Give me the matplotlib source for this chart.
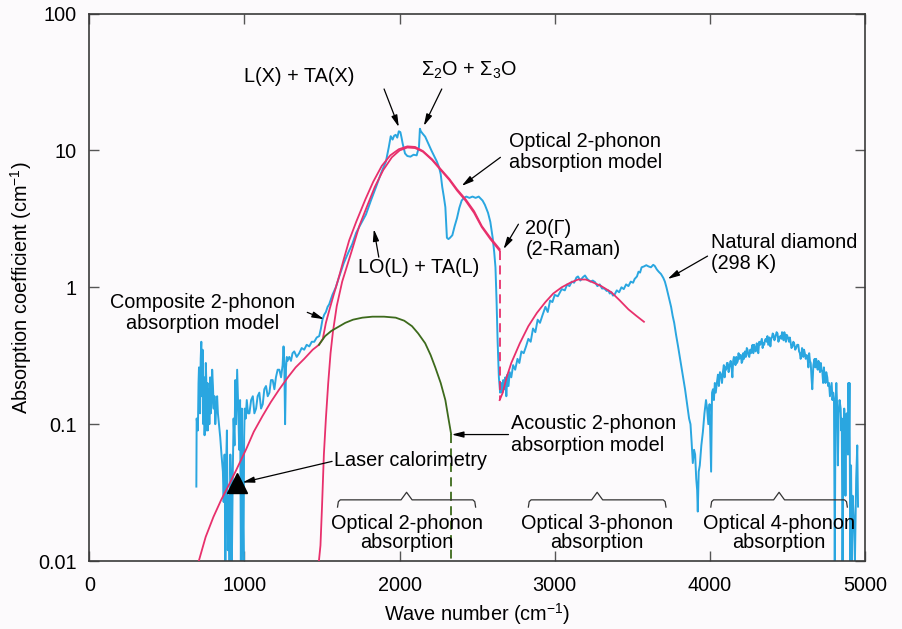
import matplotlib
matplotlib.use("Agg")
import matplotlib.pyplot as plt
import numpy as np

# ---------------- data ----------------
# Natural diamond (298 K) measured spectrum
blue_x = [690, 692, 700, 704, 707, 711, 714, 718, 722, 725, 727, 730, 732, 735, 737, 740, 743, 746, 748, 751,
          754, 757, 759, 762, 764, 767, 770, 774, 779, 783, 788, 792, 797, 802, 807,
          812, 818, 824, 829, 836, 844, 852, 861, 866, 872, 877, 882, 887, 893, 898, 904, 909, 914, 919, 925,
          930, 936, 941, 946, 953, 961, 966, 972, 977, 983, 988, 994, 998, 1002, 1008, 1015, 1023, 1032, 1043, 1054,
          1064, 1075, 1085, 1096, 1107, 1118, 1128, 1139, 1150, 1161, 1171, 1182, 1193, 1203, 1214, 1225, 1236, 1246, 1252, 1257,
          1262, 1268, 1273, 1278, 1289, 1300, 1310, 1321, 1337, 1353, 1369, 1385, 1401, 1418, 1434, 1450, 1466, 1482, 1493, 1503,
          1514, 1525, 1536, 1546, 1567, 1589, 1610, 1640, 1670, 1695, 1720, 1750, 1783, 1815, 1848, 1880, 1912, 1930, 1943, 1955,
          1965, 1975, 1985, 1995, 2005, 2012, 2020, 2035, 2050, 2070, 2090, 2110, 2125, 2131, 2137, 2150, 2165, 2185, 2205, 2225,
          2240, 2255, 2265, 2275, 2285, 2295, 2300, 2305, 2315, 2325, 2340, 2355, 2370, 2385, 2400, 2415, 2430, 2450, 2470, 2490,
          2510, 2535, 2550, 2570, 2585, 2600, 2610, 2618, 2625, 2632, 2640, 2648, 2655, 2662, 2668, 2675, 2682, 2688, 2695, 2702,
          2710, 2720, 2732, 2745, 2760, 2772, 2785, 2800, 2815, 2830, 2845, 2860, 2875, 2890, 2905, 2920, 2940, 2955, 2970, 2985,
          3000, 3020, 3045, 3065, 3080, 3095, 3110, 3125, 3140, 3150, 3165, 3180, 3195, 3210, 3230, 3245, 3260, 3275, 3290, 3305,
          3320, 3335, 3345, 3355, 3365, 3375, 3385, 3400, 3415, 3430, 3445, 3460, 3475, 3490, 3505, 3515, 3530, 3540, 3550, 3560,
          3575, 3590, 3605, 3620, 3635, 3645, 3658, 3670, 3685, 3700, 3710, 3720, 3735, 3750, 3760, 3770, 3782, 3795, 3808, 3820,
          3830, 3840, 3850, 3858, 3866, 3875, 3882, 3890, 3898, 3905, 3912, 3918, 3922, 3928, 3935, 3945, 3955, 3965, 3975, 3982,
          3990, 3998, 4008, 4014, 4020, 4026, 4032, 4038, 4045, 4052, 4058, 4065, 4072, 4078, 4084, 4090, 4095, 4100, 4105, 4110,
          4115, 4121, 4128, 4134, 4140, 4145, 4150, 4155, 4160, 4165, 4170, 4175, 4180, 4185, 4190, 4195,
          4200, 4205, 4210, 4215, 4220, 4226, 4232, 4238, 4243, 4248, 4254, 4260, 4265, 4270, 4275, 4280, 4285, 4290, 4296, 4302,
          4307, 4312, 4318, 4324, 4330, 4335, 4340, 4345, 4350, 4355, 4360, 4366, 4371, 4376, 4380, 4385, 4390, 4395, 4400, 4405,
          4410, 4416, 4422, 4430, 4436, 4442, 4448, 4454, 4460, 4465, 4470, 4475, 4480, 4485, 4490, 4495, 4500, 4505, 4510, 4515,
          4520, 4526, 4532, 4538, 4543, 4550, 4556, 4563, 4570, 4575, 4580, 4585, 4590, 4594, 4598, 4602, 4607, 4612, 4618, 4624,
          4630, 4635, 4640, 4645, 4650, 4655, 4660, 4667, 4675, 4680, 4685, 4690, 4695, 4700, 4705, 4710, 4715, 4720, 4725, 4730,
          4735, 4740, 4745, 4750, 4757, 4762, 4768, 4774, 4780, 4785, 4790, 4795, 4800, 4805,
          4810, 4815, 4820, 4825, 4830, 4836, 4843, 4847, 4850, 4855, 4862, 4866, 4870, 4874, 4878, 4882, 4886, 4890, 4893, 4897,
          4900, 4905, 4910, 4915, 4920, 4928, 4935, 4943, 4950, 4955]
blue_y = [0.035, 0.11, 0.09, 0.20, 0.26, 0.14, 0.12, 0.30, 0.40, 0.16, 0.19, 0.35, 0.30, 0.10, 0.12, 0.22, 0.083, 0.12, 0.15, 0.28,
          0.21, 0.09, 0.11, 0.20, 0.09, 0.14, 0.18, 0.10, 0.22, 0.12, 0.14, 0.25, 0.19, 0.13, 0.16,
          0.10, 0.13, 0.16, 0.12, 0.10, 0.08, 0.06, 0.045, 0.027, 0.06, 0.010, 0.05, 0.09, 0.012, 0.03, 0.010, 0.06, 0.035, 0.010, 0.045,
          0.11, 0.07, 0.21, 0.10, 0.25, 0.12, 0.065, 0.15, 0.010, 0.13, 0.03, 0.010, 0.08, 0.13, 0.11, 0.15, 0.12, 0.12, 0.15, 0.16,
          0.12, 0.13, 0.16, 0.17, 0.13, 0.14, 0.18, 0.19, 0.16, 0.17, 0.21, 0.21, 0.18, 0.22, 0.25, 0.25, 0.22, 0.27, 0.37, 0.28,
          0.10, 0.26, 0.31, 0.29, 0.31, 0.29, 0.33, 0.34, 0.31, 0.33, 0.36, 0.35, 0.38, 0.37, 0.40, 0.40, 0.43, 0.44, 0.50, 0.58,
          0.63, 0.66, 0.72, 0.75, 0.88, 1.0, 1.19, 1.5, 1.8, 2.07, 2.5, 2.9, 3.4, 4.3, 5.4, 6.8, 8.3, 10.5, 12.7, 12.0,
          12.8, 13.0, 12.4, 13.8, 13.6, 12.5, 11.2, 9.5, 9.1, 9.0, 9.3, 9.2, 10.6, 14.4, 13.8, 13.2, 12.6, 11.2, 10.0, 9.0,
          8.3, 7.5, 6.7, 5.4, 4.6, 3.85, 3.0, 2.3, 2.25, 2.3, 2.4, 2.8, 3.2, 3.8, 4.3, 4.5, 4.6, 4.5, 4.6, 4.5,
          4.6, 4.3, 4.0, 3.5, 3.0, 2.3, 1.8, 1.4, 0.8, 0.4, 0.22, 0.17, 0.20, 0.17, 0.21, 0.18, 0.22, 0.16, 0.23, 0.19,
          0.24, 0.22, 0.27, 0.25, 0.30, 0.28, 0.34, 0.33, 0.37, 0.42, 0.40, 0.50, 0.47, 0.58, 0.55, 0.62, 0.72, 0.66, 0.80, 0.78,
          0.88, 0.86, 0.97, 0.95, 1.05, 1.02, 1.10, 1.08, 1.18, 1.20, 1.12, 1.18, 1.22, 1.15, 1.10, 1.12, 1.09, 1.02, 1.05, 0.98,
          0.98, 0.94, 0.95, 0.90, 0.92, 0.87, 0.88, 0.95, 0.92, 1.00, 0.97, 1.05, 1.02, 1.10, 1.08, 1.15, 1.20, 1.30, 1.28, 1.40,
          1.42, 1.45, 1.42, 1.40, 1.46, 1.43, 1.35, 1.30, 1.25, 1.17, 1.10, 1.00, 0.85, 0.72, 0.62, 0.55, 0.45, 0.37, 0.30, 0.25,
          0.21, 0.18, 0.15, 0.128, 0.11, 0.10, 0.075, 0.052, 0.065, 0.06, 0.04, 0.033, 0.023, 0.045, 0.05, 0.07, 0.088, 0.12, 0.15, 0.13,
          0.10, 0.14, 0.045, 0.17, 0.18, 0.15, 0.20, 0.17, 0.20, 0.23, 0.19, 0.24, 0.23, 0.20, 0.24, 0.27, 0.22, 0.26, 0.25, 0.28,
          0.28, 0.24, 0.27, 0.29, 0.26, 0.22, 0.29, 0.31, 0.30, 0.27, 0.31, 0.28, 0.29, 0.33, 0.30, 0.32,
          0.32, 0.28, 0.29, 0.33, 0.30, 0.34, 0.31, 0.36, 0.35, 0.32, 0.31, 0.35, 0.33, 0.36, 0.38, 0.33, 0.38, 0.35, 0.34, 0.39,
          0.37, 0.33, 0.40, 0.38, 0.40, 0.42, 0.36, 0.39, 0.38, 0.41, 0.42, 0.40, 0.44, 0.38, 0.40, 0.43, 0.37, 0.42, 0.43, 0.46,
          0.45, 0.41, 0.43, 0.47, 0.46, 0.40, 0.43, 0.44, 0.42, 0.47, 0.46, 0.41, 0.47, 0.44, 0.40, 0.45, 0.44, 0.42, 0.40, 0.43,
          0.40, 0.36, 0.37, 0.40, 0.39, 0.35, 0.36, 0.38, 0.38, 0.34, 0.33, 0.30, 0.32, 0.36, 0.35, 0.31, 0.35, 0.33, 0.30, 0.32,
          0.30, 0.26, 0.33, 0.29, 0.28, 0.22, 0.18, 0.27, 0.30, 0.26, 0.30, 0.27, 0.25, 0.29, 0.26, 0.24, 0.28, 0.25, 0.24, 0.20,
          0.26, 0.22, 0.20, 0.24, 0.22, 0.19, 0.20, 0.16, 0.18, 0.20, 0.15, 0.17, 0.15, 0.010,
          0.14, 0.20, 0.14, 0.05, 0.12, 0.15, 0.13, 0.09, 0.11, 0.010, 0.10, 0.13, 0.11, 0.03, 0.10, 0.12, 0.10, 0.06, 0.20, 0.09,
          0.20, 0.010, 0.05, 0.010, 0.03, 0.02, 0.010, 0.04, 0.07, 0.025]

# Composite 2-phonon absorption model
comp_x = [700, 750, 800, 850, 905, 950, 1012, 1060, 1117, 1170, 1225, 1280, 1330, 1385, 1440, 1480, 1505, 1525, 1550, 1575,
          1610, 1640, 1675, 1720, 1780, 1830, 1885, 1940, 1995, 2050, 2100, 2150, 2210, 2260, 2320, 2370, 2425, 2480, 2530, 2585, 2645]
comp_y = [0.0095, 0.015, 0.021, 0.028, 0.037, 0.047, 0.066, 0.088, 0.115, 0.145, 0.18, 0.22, 0.26, 0.30, 0.35, 0.38, 0.42, 0.55, 0.70, 0.88,
          1.2, 1.6, 2.2, 3.0, 4.4, 5.9, 7.7, 9.2, 10.2, 10.7, 10.6, 9.9, 8.6, 7.4, 6.2, 5.2, 4.4, 3.6, 2.8, 2.3, 1.9]

# Optical 2-phonon absorption model
opt2_x = [1478, 1490, 1500, 1512, 1525, 1540, 1555, 1570, 1595, 1630, 1695, 1740, 1790, 1840, 1895, 1950, 2000, 2050, 2100, 2150,
          2210, 2260, 2320, 2370, 2425, 2480, 2530, 2585, 2645]
opt2_y = [0.0095, 0.013, 0.025, 0.06, 0.11, 0.20, 0.33, 0.47, 0.73, 1.1, 1.9, 2.8, 3.9, 5.4, 7.2, 8.9, 10.0, 10.5, 10.4, 9.8,
          8.5, 7.3, 6.1, 5.1, 4.3, 3.5, 2.75, 2.25, 1.85]

# Optical 3-phonon absorption model
opt3_x = [2645, 2665, 2690, 2720, 2775, 2830, 2885, 2940, 2990, 3045, 3100, 3150, 3200, 3235, 3300, 3365, 3420, 3475, 3525, 3575]
opt3_y = [0.15, 0.17, 0.22, 0.28, 0.39, 0.52, 0.65, 0.78, 0.90, 1.0, 1.08, 1.14, 1.14, 1.10, 1.02, 0.92, 0.80, 0.69, 0.62, 0.56]

# Acoustic 2-phonon absorption model
acou_x = [1480, 1520, 1560, 1600, 1650, 1700, 1760, 1825, 1900, 1975, 2030, 2080, 2120, 2165, 2200, 2230, 2265, 2295, 2315, 2332]
acou_y = [0.38, 0.44, 0.48, 0.51, 0.55, 0.58, 0.60, 0.61, 0.61, 0.60, 0.57, 0.52, 0.46, 0.39, 0.32, 0.26, 0.20, 0.15, 0.11, 0.085]

# Laser calorimetry point
laser_x = [950]
laser_y = [0.037]

x_ticks = [0, 1000, 2000, 3000, 4000, 5000]
x_tick_labels = ["0", "1000", "2000", "3000", "4000", "5000"]
y_ticks = [0.01, 0.1, 1, 10, 100]
y_tick_labels = ["0.01", "0.1", "1", "10", "100"]

bracket_spans = [(1600, 2490), (2830, 3717), (4006, 4886)]
bracket_labels = ["Optical 2-phonon\nabsorption", "Optical 3-phonon\nabsorption", "Optical 4-phonon\nabsorption"]

# ---------------- style ----------------
FONT = "Liberation Sans"
plt.rcParams["font.family"] = [FONT, "DejaVu Sans"]
plt.rcParams["mathtext.fontset"] = "custom"
plt.rcParams["mathtext.rm"] = FONT
plt.rcParams["mathtext.it"] = FONT
plt.rcParams["mathtext.bf"] = FONT
FS = 14.3
BLUE = "#2aa6e0"
PINK = "#e8306c"
GREEN = "#3d6a1c"
AX = "#3a3a3a"
TICK = "#555555"
BG = "#fcfafc"

fig = plt.figure(figsize=(9.02, 6.29), dpi=100, facecolor=BG)
ax = fig.add_axes([0.099, 0.108, 0.860, 0.8705], facecolor=BG)

ax.plot(blue_x, blue_y, color=BLUE, lw=1.4, zorder=2)
ax.plot(comp_x, comp_y, color=PINK, lw=1.3, zorder=3)
ax.plot(opt2_x, opt2_y, color=PINK, lw=1.3, zorder=3)
ax.plot([opt2_x[-1], opt3_x[0]], [opt2_y[-1], opt3_y[0]], color=PINK, lw=1.3, ls=(0, (5, 3)), zorder=3)
ax.plot(opt3_x, opt3_y, color=PINK, lw=1.3, zorder=3)
ax.plot(acou_x, acou_y, color=GREEN, lw=1.3, zorder=4)
ax.plot([acou_x[-1], acou_x[-1]], [acou_y[-1], 0.0095], color=GREEN, lw=1.3, ls=(0, (5, 3)), zorder=4)
ax.plot(laser_x, laser_y, marker="^", color="black", ms=14, ls="none", zorder=5)

ax.set_yscale("log")
ax.set_xlim(0, 5000)
ax.set_ylim(0.01, 100)
ax.set_xticks(x_ticks)
ax.set_xticklabels(x_tick_labels)
ax.set_yticks(y_ticks)
ax.set_yticklabels(y_tick_labels)
ax.minorticks_off()
ax.tick_params(direction="in", length=7, width=1.0, color=TICK, labelsize=FS, top=True, right=True)
ax.tick_params(axis="x", pad=11)
ax.tick_params(axis="y", pad=9)
for s in ax.spines.values():
    s.set_color(AX)
    s.set_linewidth(1.2)

ax.set_xlabel("Wave number (cm$^{-1}$)", fontsize=FS, labelpad=4)
ax.set_ylabel("Absorption coefficient (cm$^{-1}$)", fontsize=FS, labelpad=3)

arrow = dict(arrowstyle="-|>,head_length=0.7,head_width=0.18", color="black", lw=0.9, shrinkA=0, shrinkB=0)

def note(text, xy, xytext, tx, ty, ha="left"):
    ax.annotate("", xy=xy, xytext=xytext, arrowprops=arrow, zorder=6)
    ax.text(tx, ty, text, fontsize=FS, ha=ha, va="center", linespacing=1.15, zorder=6)

note("L(X) + TA(X)", (1995, 14.8), (1900, 28.1), 1352, 34.4, ha="center")
note("$\\Sigma_2$O + $\\Sigma_3$O", (2156, 15.1), (2272, 28.1), 2445, 38.5, ha="center")
note("Optical 2-phonon\nabsorption model", (2400, 5.5), (2650, 8.9), 2708, 9.7)
note("20(Γ)\n(2-Raman)", (2670, 1.9), (2766, 2.89), 2811, 2.24)
note("LO(L) + TA(L)", (1834, 2.66), (1866, 1.66), 2124, 1.40, ha="center")
note("Natural diamond\n(298 K)", (3728, 1.15), (3985, 1.69), 4006, 1.77)
note("Composite 2-phonon\nabsorption model", (1513, 0.585), (1405, 0.656), 731, 0.652, ha="center")
note("Laser calorimetry", (987, 0.0375), (1565, 0.0535), 1578, 0.0543)
note("Acoustic 2-phonon\nabsorption model", (2336, 0.084), (2702, 0.084), 2721, 0.084)

# curly brackets under the phonon bands
yl, ye, yp = 0.028, 0.0248, 0.0318
for (x0, x1), lab in zip(bracket_spans, bracket_labels):
    xc = 0.5 * (x0 + x1)
    w = 0.02 * (x1 - x0)
    d = 0.04 * (x1 - x0)
    ax.plot([x0, x0 + w * 0.3, x0 + w, xc - d, xc, xc + d, x1 - w, x1 - w * 0.3, x1],
            [ye, yl * 0.97, yl, yl, yp, yl, yl, yl * 0.97, ye], color="#333333", lw=0.9, zorder=6)
    ax.text(xc, 0.016, lab, fontsize=FS, ha="center", va="center", linespacing=1.0, zorder=6)

fig.savefig("out.png", dpi=100, facecolor=BG)
